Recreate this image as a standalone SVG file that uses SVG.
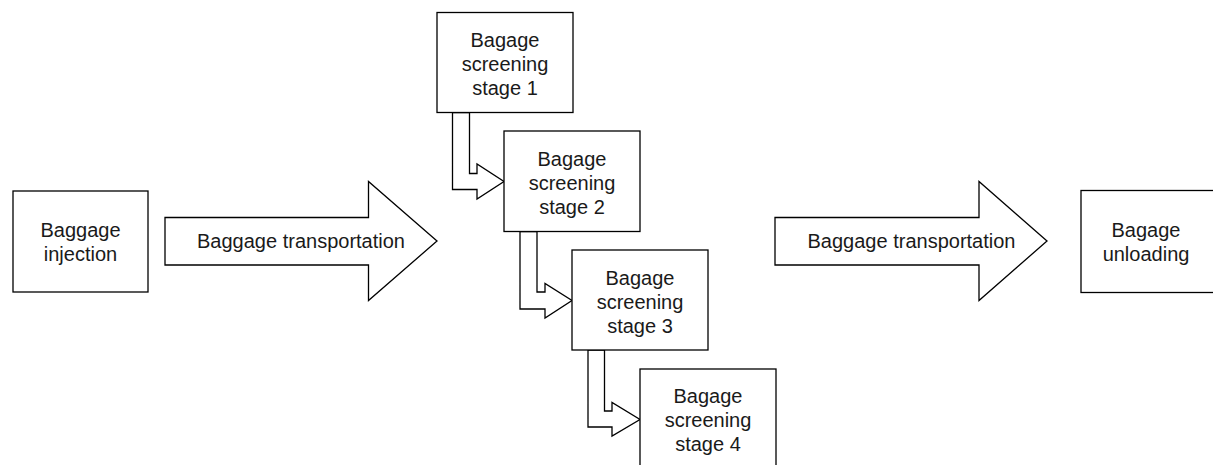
<svg xmlns="http://www.w3.org/2000/svg" width="1213" height="465" viewBox="0 0 1213 465">
  <style>
    .box { fill: #ffffff; stroke: #000000; stroke-width: 1.3; }
    .flow { fill: #ffffff; stroke: #000000; stroke-width: 1.3; stroke-linejoin: miter; }
    .lbl { font-family: "Liberation Sans", Arial, sans-serif; font-size: 20px; fill: #1a1a1a; text-anchor: middle; }
  </style>
  <rect width="1213" height="465" fill="#ffffff"/>

  <!-- connectors: block arrows for transport and bent arrows between screening stages -->
  <g id="connectors">
    <g id="transport-in">
      <path class="flow" d="M165,217.5 H368.5 V181.5 L437,241 L368.5,300.5 V265 H165 Z"/>
      <text class="lbl" x="301" y="248">Baggage transportation</text>
    </g>
    <g id="transport-out">
      <path class="flow" d="M775,217.5 H979 V181.5 L1047,241 L979,300.5 V265 H775 Z"/>
      <text class="lbl" x="911.5" y="248">Baggage transportation</text>
    </g>
    <path id="s1-s2" class="flow" d="M452.5,112.5 V189.5 H477 V199 L504,181.5 L477,164 V173.5 H469.5 V112.5 Z"/>
    <path id="s2-s3" class="flow" d="M520,231.5 V309 H545 V318 L572,300.5 L545,283.5 V292 H537 V231.5 Z"/>
    <path id="s3-s4" class="flow" d="M588,350 V427 H612 V436 L640,419.5 L612,402.5 V411 H604.5 V350 Z"/>
  </g>

  <g id="injection">
    <rect class="box" x="13" y="191" width="135" height="101"/>
    <text class="lbl" x="80.5" y="236.5">Baggage</text>
    <text class="lbl" x="80.5" y="260.5">injection</text>
  </g>

  <g id="stage1">
    <rect class="box" x="437" y="12.5" width="136" height="100"/>
    <text class="lbl" x="505" y="46.5">Bagage</text>
    <text class="lbl" x="505" y="70.5">screening</text>
    <text class="lbl" x="505" y="94.5">stage 1</text>
  </g>

  <g id="stage2">
    <rect class="box" x="504" y="131" width="136" height="100.5"/>
    <text class="lbl" x="572" y="165.5">Bagage</text>
    <text class="lbl" x="572" y="189.5">screening</text>
    <text class="lbl" x="572" y="213.5">stage 2</text>
  </g>

  <g id="stage3">
    <rect class="box" x="572" y="250" width="136" height="100"/>
    <text class="lbl" x="640" y="284.5">Bagage</text>
    <text class="lbl" x="640" y="308.5">screening</text>
    <text class="lbl" x="640" y="332.5">stage 3</text>
  </g>

  <g id="stage4">
    <rect class="box" x="640" y="369" width="136" height="100"/>
    <text class="lbl" x="708" y="403">Bagage</text>
    <text class="lbl" x="708" y="427">screening</text>
    <text class="lbl" x="708" y="451">stage 4</text>
  </g>

  <g id="unloading">
    <rect class="box" x="1081" y="190.5" width="136" height="102"/>
    <text class="lbl" x="1146" y="236.5">Bagage</text>
    <text class="lbl" x="1146" y="260.5">unloading</text>
  </g>
</svg>
